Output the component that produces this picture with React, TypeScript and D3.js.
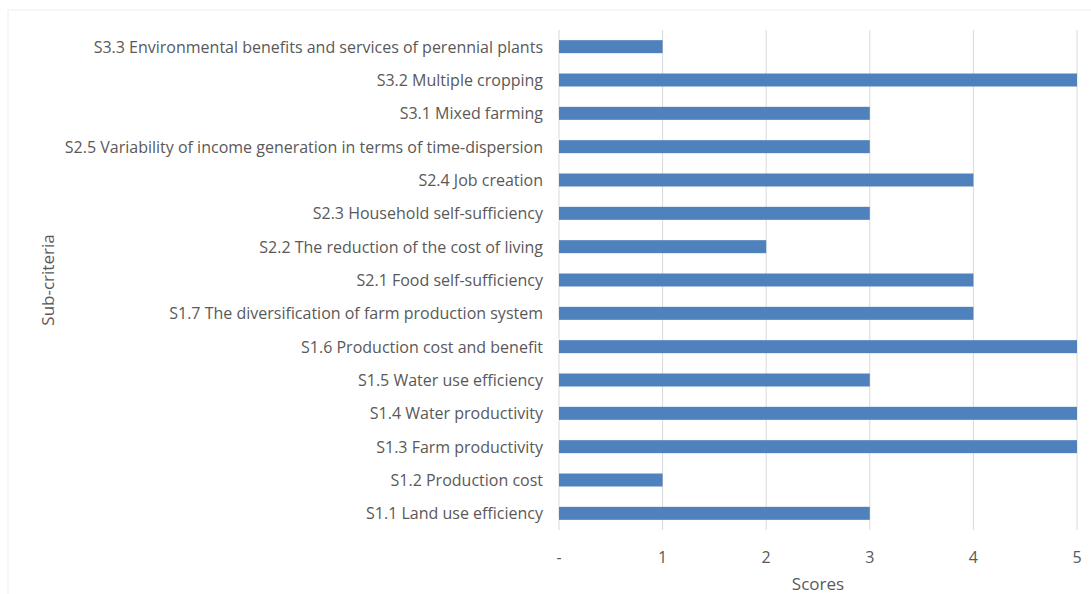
import React from "react";
import * as d3 from "d3";

const categories = [
  "S3.3 Environmental benefits and services of perennial plants",
  "S3.2 Multiple cropping",
  "S3.1 Mixed farming",
  "S2.5 Variability of income generation in terms of time-dispersion",
  "S2.4 Job creation",
  "S2.3 Household self-sufficiency",
  "S2.2 The reduction of the cost of living",
  "S2.1 Food self-sufficiency",
  "S1.7 The diversification of farm production system",
  "S1.6 Production cost and benefit",
  "S1.5 Water use efficiency",
  "S1.4 Water productivity",
  "S1.3 Farm productivity",
  "S1.2 Production cost",
  "S1.1 Land use efficiency",
];
const scores = [1, 5, 3, 3, 4, 3, 2, 4, 4, 5, 3, 5, 5, 1, 3];
const tickValues = [0, 1, 2, 3, 4, 5];
const tickLabels = ["-", "1", "2", "3", "4", "5"];

const W = 1091;
const H = 594;
const FONT = "'Open Sans', sans-serif";
const TEXT = "#595959";

export default function App() {
  const x = d3.scaleLinear().domain([0, 5]).range([559, 1077]);
  const band = d3.scaleBand().domain(categories).range([30, 530]);
  return (
    <svg
      width={W}
      height={H}
      style={{ position: "absolute", left: 0, top: 0, background: "#fff" }}
    >
      <line x1={8} x2={W} y1={10} y2={10} stroke="#eeeeee" />
      <line x1={8} x2={8} y1={10} y2={H} stroke="#eeeeee" />
      {tickValues.map((t) => (
        <line key={t} x1={x(t)} x2={x(t)} y1={30} y2={530} stroke="#d9d9d9" strokeWidth={1} />
      ))}
      {categories.map((c, i) => {
        const cy = (band(c) as number) + band.bandwidth() / 2;
        const h = 13;
        return (
          <g key={c}>
            <rect x={x(0)} y={cy - h / 2} width={x(scores[i]) - x(0)} height={h} fill="#4f81bd" />
            <text
              x={543}
              y={cy}
              textAnchor="end"
              dominantBaseline="central"
              fontFamily={FONT}
              fontSize={16}
              fill={TEXT}
            >
              {c}
            </text>
          </g>
        );
      })}
      {tickValues.map((t, i) => (
        <text
          key={t}
          x={x(t)}
          y={557}
          textAnchor="middle"
          dominantBaseline="central"
          fontFamily={FONT}
          fontSize={16}
          fill={TEXT}
        >
          {tickLabels[i]}
        </text>
      ))}
      <text x={818} y={583} textAnchor="middle" dominantBaseline="central" fontFamily={FONT} fontSize={17} fill={TEXT}>
        Scores
      </text>
      <text
        transform={`translate(47,280) rotate(-90)`}
        textAnchor="middle"
        dominantBaseline="central"
        fontFamily={FONT}
        fontSize={17}
        fill={TEXT}
      >
        Sub-criteria
      </text>
    </svg>
  );
}
